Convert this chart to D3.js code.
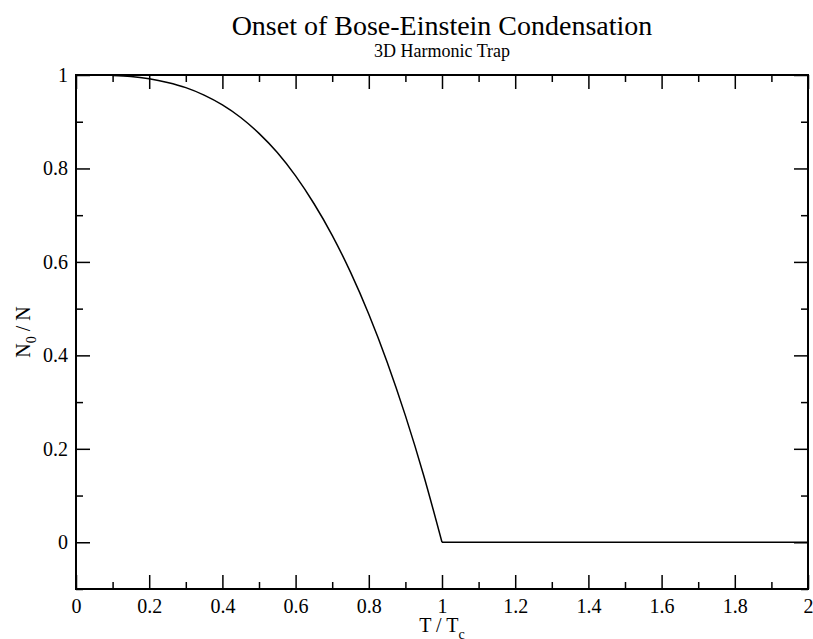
<!DOCTYPE html>
<html>
<head>
<meta charset="utf-8">
<script src="https://cdn.jsdelivr.net/npm/d3@7"></script>
<style>
  body { margin: 0; background: #fff; }
  svg text { font-family: "Liberation Serif", "Times New Roman", "DejaVu Serif", serif !important; fill: #000; }
</style>
</head>
<body>
<div id="chart"></div>
<script>
// values
const tCurve = [0.1, 0.15, 0.2, 0.25, 0.3, 0.35, 0.4, 0.45, 0.5, 0.55, 0.6, 0.65, 0.7, 0.75, 0.8, 0.85, 0.9, 0.95, 1.0];
const nCurve = [0.999, 0.997, 0.992, 0.984, 0.973, 0.957, 0.936, 0.909, 0.875, 0.834, 0.784, 0.725, 0.657, 0.578, 0.488, 0.386, 0.271, 0.143, 0];
const tFlat = [1.0, 2.0];
const nFlat = [0, 0];

const xMajor = [0, 0.2, 0.4, 0.6, 0.8, 1, 1.2, 1.4, 1.6, 1.8, 2];
const xMinor = [0.1, 0.3, 0.5, 0.7, 0.9, 1.1, 1.3, 1.5, 1.7, 1.9];
const yMajor = [0, 0.2, 0.4, 0.6, 0.8, 1];
const yMinor = [-0.1, 0.1, 0.3, 0.5, 0.7, 0.9];

const width = 813, height = 639;
const margin = { top: 75, right: 5, bottom: 50, left: 76 };
const w = width - margin.left - margin.right,
      h = height - margin.top - margin.bottom;

const svg = d3.select("#chart")
  .append("svg")
  .attr("width", width)
  .attr("height", height);

const g = svg.append("g")
  .attr("transform", `translate(${margin.left},${margin.top})`);

const x = d3.scaleLinear().domain([0, 2]).range([0, w]);
const y = d3.scaleLinear().domain([-0.1, 1]).range([h, 0]);

const fmt = d => String(+d.toFixed(1));

// bottom axis, ticks pointing inward
g.append("g")
  .attr("transform", `translate(0,${h})`)
  .call(d3.axisBottom(x).tickValues(xMajor).tickSizeInner(-14).tickSizeOuter(0).tickPadding(10).tickFormat(fmt))
  .call(a => a.select(".domain").remove());
g.append("g")
  .attr("transform", `translate(0,${h})`)
  .call(d3.axisBottom(x).tickValues(xMinor).tickSizeInner(-7).tickSizeOuter(0).tickFormat(""))
  .call(a => a.select(".domain").remove());

// top axis mirror
g.append("g")
  .call(d3.axisTop(x).tickValues(xMajor).tickSizeInner(-14).tickSizeOuter(0).tickFormat(""))
  .call(a => a.select(".domain").remove());
g.append("g")
  .call(d3.axisTop(x).tickValues(xMinor).tickSizeInner(-7).tickSizeOuter(0).tickFormat(""))
  .call(a => a.select(".domain").remove());

// left axis
g.append("g")
  .call(d3.axisLeft(y).tickValues(yMajor).tickSizeInner(-14).tickSizeOuter(0).tickPadding(8).tickFormat(fmt))
  .call(a => a.select(".domain").remove());
g.append("g")
  .call(d3.axisLeft(y).tickValues(yMinor).tickSizeInner(-7).tickSizeOuter(0).tickFormat(""))
  .call(a => a.select(".domain").remove());

// right axis mirror
g.append("g")
  .attr("transform", `translate(${w},0)`)
  .call(d3.axisRight(y).tickValues(yMajor).tickSizeInner(-14).tickSizeOuter(0).tickFormat(""))
  .call(a => a.select(".domain").remove());
g.append("g")
  .attr("transform", `translate(${w},0)`)
  .call(d3.axisRight(y).tickValues(yMinor).tickSizeInner(-7).tickSizeOuter(0).tickFormat(""))
  .call(a => a.select(".domain").remove());

g.selectAll("g").attr("font-family", "Liberation Serif");
g.selectAll(".tick line").attr("stroke", "#000").attr("stroke-width", 1.5);
g.selectAll(".tick text").attr("font-size", 20);

// frame
g.append("rect")
  .attr("width", w)
  .attr("height", h)
  .attr("fill", "none")
  .attr("stroke", "#000")
  .attr("stroke-width", 2);

// data
const line = d3.line().x(d => x(d.t)).y(d => y(d.n));
g.append("path")
  .datum(tCurve.map((t, i) => ({ t, n: nCurve[i] })))
  .attr("fill", "none")
  .attr("stroke", "#000")
  .attr("stroke-width", 1.5)
  .attr("d", line.curve(d3.curveMonotoneX));
g.append("path")
  .datum(tFlat.map((t, i) => ({ t, n: nFlat[i] })))
  .attr("fill", "none")
  .attr("stroke", "#000")
  .attr("stroke-width", 1.5)
  .attr("d", d3.line().x(d => x(d.t)).y(d => y(d.n)));

// titles
const cx = margin.left + w / 2;
svg.append("text")
  .attr("x", cx).attr("y", 35)
  .attr("text-anchor", "middle")
  .attr("font-size", 28)
  .text("Onset of Bose-Einstein Condensation");
svg.append("text")
  .attr("x", cx).attr("y", 57)
  .attr("text-anchor", "middle")
  .attr("font-size", 18)
  .text("3D Harmonic Trap");

// axis labels
const xl = svg.append("text")
  .attr("x", cx).attr("y", 632)
  .attr("text-anchor", "middle")
  .attr("font-size", 20);
xl.append("tspan").text("T / T");
xl.append("tspan").attr("dy", 7).attr("font-size", 14).text("c");

const yl = svg.append("text")
  .attr("transform", `translate(30,${margin.top + h / 2}) rotate(-90)`)
  .attr("text-anchor", "middle")
  .attr("font-size", 20);
yl.append("tspan").text("N");
yl.append("tspan").attr("dy", 6).attr("font-size", 14).text("0");
yl.append("tspan").attr("dy", -6).text(" / N");
</script>
</body>
</html>
